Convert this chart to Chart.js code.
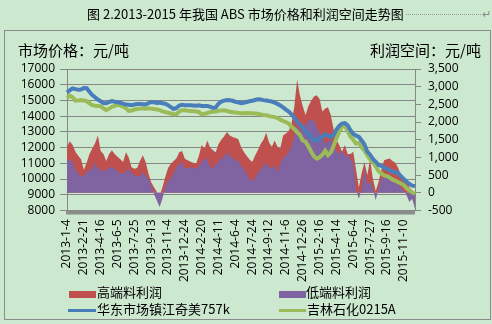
<!DOCTYPE html>
<html>
<head>
<meta charset="utf-8">
<script src="https://cdn.jsdelivr.net/npm/chart.js@4.4.1/dist/chart.umd.min.js"></script>
<style>
  body { margin: 0; background: #cce8cf; width: 492px; height: 324px; overflow: hidden; position: relative; font-family: "Noto Sans CJK SC", sans-serif; }
  #box { position: absolute; left: 4px; top: 30px; width: 485px; height: 288px; border: 1px solid #8c8c8c; }
  #chart { position: absolute; left: 0; top: 0; }
  .t { position: absolute; white-space: nowrap; color: #000; line-height: 18px; }
  .sw { position: absolute; }
</style>
</head>
<body>
<div id="box"></div>
<canvas id="chart" width="492" height="324"></canvas>

<div class="t" style="left:87px;top:5px;font-size:13px;">图 2.2013-2015 年我国 ABS 市场价格和利润空间走势图</div>
<div style="position:absolute;left:406px;top:14px;width:75px;border-bottom:1px dotted #9a9a9a;"></div>
<div class="t" style="left:482px;top:4px;font-size:11px;color:#8a8a8a;">↵</div>

<div class="t" style="left:18px;top:41px;font-size:15px;">市场价格：元/吨</div>
<div class="t" style="left:370px;top:41px;font-size:15px;">利润空间：元/吨</div>

<!-- 图例 -->
<div class="sw" style="left:69px;top:291px;width:27px;height:7px;background:#c0504d;"></div>
<div class="t" style="left:97px;top:283px;font-size:13px;">高端料利润</div>
<div class="sw" style="left:279px;top:291px;width:27px;height:7px;background:#8064a2;"></div>
<div class="t" style="left:306px;top:283px;font-size:13px;">低端料利润</div>
<div class="sw" style="left:68px;top:309px;width:28px;height:3px;background:#4a7ebb;"></div>
<div class="t" style="left:97px;top:300px;font-size:13px;">华东市场镇江奇美757k</div>
<div class="sw" style="left:279px;top:309px;width:27px;height:3px;background:#9bbb59;"></div>
<div class="t" style="left:307px;top:300px;font-size:13px;">吉林石化0215A</div>

<script>
// 横轴刻度（每 6 个数据点一个标签）
const tickLabels = ['2013-1-4', '2013-2-21', '2013-4-16', '2013-6-5', '2013-7-25', '2013-9-13', '2013-11-4',
    '2013-12-24', '2014-2-20', '2014-4-11', '2014-6-4', '2014-7-24', '2014-9-12', '2014-11-6', '2014-12-26',
    '2015-2-16', '2015-4-14', '2015-6-4', '2015-7-27', '2015-9-16', '2015-11-10'];

// 华东市场镇江奇美757k（元/吨，左轴）
const priceQimei = [15500, 15650, 15760, 15720, 15680, 15700, 15790, 15780, 15550, 15340,
    15200, 15060, 14950, 14840, 14820, 14900, 14960, 14920, 14880, 14850,
    14800, 14740, 14720, 14700, 14740, 14770, 14780, 14760, 14740, 14820,
    14900, 14880, 14840, 14860, 14820, 14790, 14700, 14580, 14460, 14520,
    14680, 14720, 14700, 14690, 14700, 14680, 14660, 14690, 14650, 14640,
    14650, 14600, 14530, 14560, 14800, 14930, 14990, 15030, 15020, 14980,
    14920, 14880, 14830, 14850, 14900, 14950, 14980, 15030, 15080, 15060,
    15020, 15000, 14960, 14930, 14860, 14780, 14680, 14560, 14420, 14290,
    14120, 13900, 13630, 13460, 13260, 13040, 12850, 12680, 12480, 12450,
    12560, 12700, 12850, 12760, 12680, 12800, 13150, 13380, 13530, 13560,
    13420, 13100, 12870, 12760, 12680, 12450, 12200, 11740, 11550, 11280,
    11100, 10900, 10840, 10720, 10650, 10560, 10460, 10430, 10380, 10180,
    10000, 9830, 9690, 9580, 9560];

// 吉林石化0215A（元/吨，左轴）
const priceJilin = [15150, 15300, 15200, 14980, 14990, 15020, 15000, 14960, 14820, 14700,
    14660, 14650, 14640, 14500, 14380, 14480, 14590, 14650, 14720, 14700,
    14600, 14500, 14330, 14360, 14430, 14460, 14480, 14490, 14480, 14500,
    14480, 14450, 14430, 14380, 14300, 14260, 14220, 14170, 14120, 14120,
    14300, 14380, 14370, 14340, 14330, 14320, 14300, 14270, 14110, 14150,
    14200, 14260, 14280, 14300, 14340, 14360, 14380, 14330, 14280, 14250,
    14230, 14210, 14180, 14190, 14200, 14190, 14180, 14170, 14150, 14110,
    14080, 14060, 14000, 13970, 13940, 13880, 13780, 13690, 13620, 13530,
    13330, 13180, 12990, 12800, 12450, 12380, 12080, 11750, 11450, 11300,
    11380, 11550, 11800, 11520, 11700, 12100, 12580, 13000, 13350, 13380,
    13050, 12700, 12500, 12250, 12300, 12020, 11800, 11520, 11240, 11050,
    10820, 10500, 10360, 10230, 10180, 10100, 9960, 9900, 9800, 9720,
    9620, 9420, 9280, 9150, 9050];

// 高端料利润（元/吨，右轴）
const profitHigh = [1300, 1460, 1350, 1160, 1050, 950, 650, 850, 1100, 1250,
    1400, 1620, 1180, 1100, 900, 1100, 1200, 1100, 1020, 950,
    870, 1150, 1000, 720, 680, 700, 900, 1060, 880, 550,
    300, 160, 30, -80, 150, 450, 700, 820, 900, 980,
    1150, 1180, 960, 920, 880, 850, 820, 1050, 1350, 1250,
    1480, 1280, 1200, 1150, 1380, 1500, 1600, 1720, 1620, 1580,
    1550, 1520, 1300, 1160, 1050, 950, 870, 1050, 1200, 1380,
    1500, 1700, 1420, 1300, 1480, 1300, 1250, 1620, 1680, 1750,
    1950, 2450, 3200, 2750, 2450, 2200, 2450, 2600, 2720, 2760,
    2650, 2300, 2380, 2420, 2200, 1800, 1500, 1350, 1160, 1350,
    1100, 1100, 1160, 650, 150, 550, 870, 500, 950, 400,
    50, 300, 650, 920, 950, 970, 900, 850, 700, 500,
    450, 380, 160, 50, -100];

// 低端料利润（元/吨，右轴）
const profitLow = [950, 920, 880, 650, 560, 460, 480, 590, 640, 680,
    860, 700, 650, 600, 650, 730, 700, 680, 600, 560,
    540, 620, 680, 560, 500, 470, 460, 580, 500, 400,
    200, -40, -220, -400, -170, 180, 320, 420, 560, 720,
    820, 860, 680, 700, 720, 700, 680, 760, 880, 940,
    960, 720, 700, 820, 880, 980, 1020, 1150, 1050, 970,
    950, 900, 780, 680, 550, 400, 310, 450, 560, 650,
    760, 860, 700, 720, 760, 590, 850, 980, 1040, 1150,
    1320, 1600, 1900, 1780, 1720, 1950, 2010, 2080, 2050, 1850,
    1700, 1530, 1400, 1450, 1530, 1280, 1200, 1100, 1200, 1020,
    1100, 950, 850, 80, -170, 120, 680, 250, 300, 120,
    -210, 120, 400, 460, 500, 420, 320, 280, 250, 150,
    60, -70, -260, -170, -450];

const labels = priceQimei.map((_, i) => (i % 6 === 0 ? tickLabels[i / 6] : ''));

const gridGrey = '#868686';
const tickFont = { family: 'Open Sans', size: 12 };

// 底部粗灰色横轴
const axisBar = {
    id: 'axisBar',
    afterDatasetsDraw(chart) {
        const { ctx, chartArea: a } = chart;
        ctx.save();
        ctx.fillStyle = '#8c8c8c';
        ctx.fillRect(a.left - 1, a.bottom, a.right - a.left + 1, 4);
        ctx.restore();
    }
};

new Chart(document.getElementById('chart').getContext('2d'), {
    type: 'line',
    data: {
        labels: labels,
        datasets: [
            { label: '华东市场镇江奇美757k', data: priceQimei, yAxisID: 'y', borderColor: '#4a7ebb', borderWidth: 4, fill: false, order: 0 },
            { label: '吉林石化0215A', data: priceJilin, yAxisID: 'y', borderColor: '#9bbb59', borderWidth: 4, fill: false, order: 1 },
            { label: '低端料利润', data: profitLow, yAxisID: 'y1', borderWidth: 0, borderColor: 'rgba(0,0,0,0)', backgroundColor: '#8064a2', fill: 'origin', order: 2 },
            { label: '高端料利润', data: profitHigh, yAxisID: 'y1', borderWidth: 0, borderColor: 'rgba(0,0,0,0)', backgroundColor: '#c0504d', fill: 'origin', order: 3 }
        ]
    },
    options: {
        responsive: false,
        animation: false,
        layout: { padding: { top: 69, left: 0, right: 0, bottom: 0 } },
        elements: { point: { radius: 0 }, line: { tension: 0 } },
        plugins: { legend: { display: false }, tooltip: { enabled: false } },
        scales: {
            x: {
                grid: { display: false, drawTicks: false },
                border: { display: false },
                ticks: { autoSkip: false, maxRotation: 90, minRotation: 90, padding: 9, color: '#000', font: tickFont },
                afterFit: function (s) { s.height = 113.5; }
            },
            y: {
                position: 'left',
                min: 8000,
                max: 17000,
                ticks: { stepSize: 1000, autoSkip: false, padding: 5, color: '#000', font: tickFont, callback: v => String(v) },
                grid: { color: gridGrey, tickLength: 7 },
                border: { color: gridGrey },
                afterFit: function (s) { s.width = 67; }
            },
            y1: {
                position: 'right',
                min: -500,
                max: 3500,
                ticks: { stepSize: 500, autoSkip: false, padding: 7, color: '#000', font: tickFont, callback: v => v.toLocaleString('en-US') },
                grid: { drawOnChartArea: false, color: gridGrey, tickLength: 6 },
                border: { color: gridGrey },
                afterFit: function (s) { s.width = 77; }
            }
        }
    },
    plugins: [axisBar]
});
</script>
</body>
</html>
